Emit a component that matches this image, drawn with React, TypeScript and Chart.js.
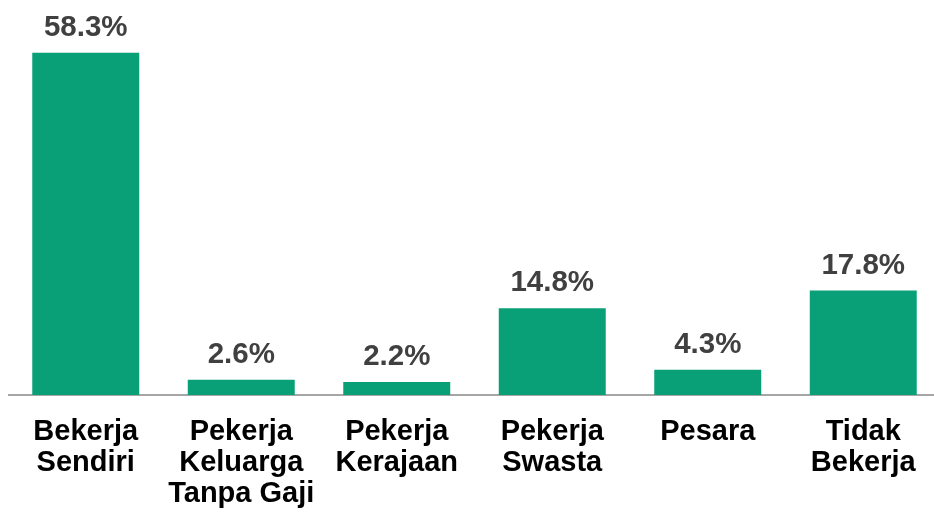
import React, { useEffect, useRef } from "react";
import { Chart, registerables } from "chart.js";

Chart.register(...registerables);

const categories: string[][] = [
  ["Bekerja", "Sendiri"],
  ["Pekerja", "Keluarga", "Tanpa Gaji"],
  ["Pekerja", "Kerajaan"],
  ["Pekerja", "Swasta"],
  ["Pesara"],
  ["Tidak", "Bekerja"],
];
const values: number[] = [58.3, 2.6, 2.2, 14.8, 4.3, 17.8];
const valueLabels: string[] = ["58.3%", "2.6%", "2.2%", "14.8%", "4.3%", "17.8%"];

const FONT = "'Liberation Sans', Arial, sans-serif";

const valueLabelPlugin = {
  id: "valueLabels",
  afterDatasetsDraw(chart: any) {
    const ctx = chart.ctx;
    const meta = chart.getDatasetMeta(0);
    ctx.save();
    ctx.font = `bold 29.5px ${FONT}`;
    ctx.fillStyle = "#404040";
    ctx.textAlign = "center";
    ctx.textBaseline = "alphabetic";
    meta.data.forEach((bar: any, i: number) => {
      ctx.fillText(valueLabels[i], bar.x, bar.y - 17);
    });
    ctx.restore();
  },
};

export default function App() {
  const ref = useRef<HTMLCanvasElement | null>(null);
  useEffect(() => {
    document.body.style.margin = "0";
    document.body.style.overflow = "hidden";
    const chart = new Chart(ref.current!, {
      type: "bar",
      data: {
        labels: categories,
        datasets: [
          {
            data: values,
            backgroundColor: "#09a077",
            borderWidth: 0,
            categoryPercentage: 1,
            barPercentage: 0.688,
          },
        ],
      },
      options: {
        animation: false,
        responsive: false,
        layout: { padding: 0 },
        plugins: { legend: { display: false }, tooltip: { enabled: false } },
        scales: {
          x: {
            grid: { display: false, drawTicks: false },
            border: { display: true, color: "#a6a6a6", width: 2 },
            ticks: {
              color: "#000000",
              font: { family: FONT, size: 29, weight: "bold", lineHeight: 1.06 },
              padding: 22,
              maxRotation: 0,
              autoSkip: false,
            },
            afterFit(scale: any) {
              scale.height = 121;
            },
          },
          y: {
            display: false,
            min: 0,
            max: 67.3,
          },
        },
      },
      plugins: [valueLabelPlugin],
    });
    return () => chart.destroy();
  }, []);
  return (
    <div style={{ position: "relative", width: 934, height: 516, overflow: "hidden" }}>
      <canvas
        ref={ref}
        width={933}
        height={516}
        style={{ position: "absolute", left: 8, top: 0, width: 933, height: 516 }}
      />
    </div>
  );
}
